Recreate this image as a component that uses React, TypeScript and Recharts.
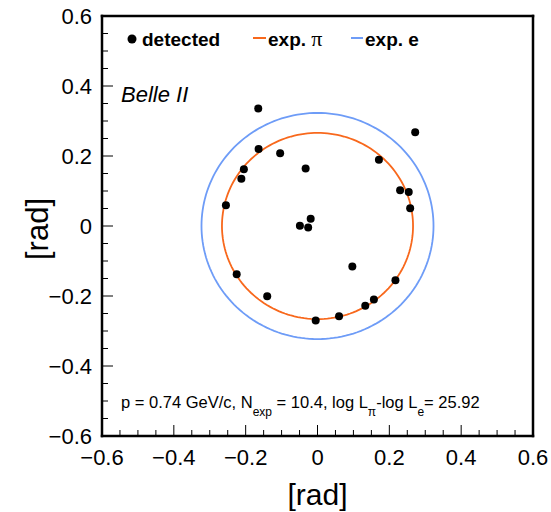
import { ScatterChart, Scatter, XAxis, YAxis } from 'recharts';

// detected hit positions [rad]
const detectedX = [
  -0.165, 0.272, -0.164, -0.104, -0.205, -0.212, -0.033, 0.171, 0.23, 0.254, 0.258, -0.255,
  -0.019, -0.049, -0.026, 0.097, -0.225, 0.217, -0.14, 0.157, 0.133, 0.06, -0.005,
];
const detectedY = [
  0.336, 0.268, 0.22, 0.208, 0.162, 0.135, 0.164, 0.189, 0.102, 0.097, 0.051, 0.059,
  0.021, 0.001, -0.004, -0.116, -0.138, -0.155, -0.201, -0.21, -0.228, -0.258, -0.27,
];

// expected ring radii [rad]
const piRadius = 0.266;
const eRadius = 0.323;

const majorTicks = [-0.6, -0.4, -0.2, 0, 0.2, 0.4, 0.6];
const majorLabels = ['\u22120.6', '\u22120.4', '\u22120.2', '0', '0.2', '0.4', '0.6'];
const minorTicks = [
  -0.6, -0.55, -0.5, -0.45, -0.4, -0.35, -0.3, -0.25, -0.2, -0.15, -0.1, -0.05, 0,
  0.05, 0.1, 0.15, 0.2, 0.25, 0.3, 0.35, 0.4, 0.45, 0.5, 0.55, 0.6,
];

const W = 551;
const H = 512;
const LEFT = 102;
const RIGHT = 533;
const TOP = 16;
const BOTTOM = 436;
const FONT = '"Liberation Sans", Arial, Helvetica, sans-serif';
const ORANGE = '#f8681c';
const BLUE = '#6e9cf7';
const EDGE = 2.5;

const detected = detectedX.map((x, i) => ({ x, y: detectedY[i] }));

const ring = (r: number) => {
  const pts = [];
  for (let i = 0; i <= 360; i += 2) {
    const t = (i * Math.PI) / 180;
    pts.push({ x: r * Math.cos(t), y: r * Math.sin(t) });
  }
  return pts;
};

const labelFor = (v: number) => {
  const idx = majorTicks.findIndex((m) => Math.abs(m - v) < 1e-6);
  return idx >= 0 ? majorLabels[idx] : null;
};

const XTick = (props: any) => {
  const { x, payload } = props;
  const label = labelFor(payload.value);
  return (
    <g>
      <line x1={x} x2={x} y1={BOTTOM} y2={BOTTOM - (label ? 11 : 6)} stroke="#000" strokeWidth={1} />
      {label && (
        <text x={x} y={465} textAnchor="middle" fontSize={22} fontFamily={FONT} fill="#000">
          {label}
        </text>
      )}
    </g>
  );
};

const YTick = (props: any) => {
  const { y, payload } = props;
  const label = labelFor(payload.value);
  return (
    <g>
      <line x1={LEFT} x2={LEFT + (label ? 11 : 6)} y1={y} y2={y} stroke="#000" strokeWidth={1} />
      {label && (
        <text x={92} y={y + 8} textAnchor="end" fontSize={22} fontFamily={FONT} fill="#000">
          {label}
        </text>
      )}
    </g>
  );
};

const Dot = (props: any) => <circle cx={props.cx} cy={props.cy} r={4} fill="#000" />;
const NoDot = () => <g />;

export default function App() {
  return (
    <div style={{ position: 'absolute', left: 0, top: 0, width: W, height: H, background: '#fff' }}>
      <ScatterChart width={W} height={H} margin={{ top: TOP, right: W - RIGHT, bottom: 0, left: 0 }}>
        <XAxis
          type="number"
          dataKey="x"
          domain={[-0.6, 0.6]}
          ticks={minorTicks}
          interval={0}
          height={H - BOTTOM}
          tickSize={0}
          axisLine={false}
          tickLine={false}
          tick={<XTick />}
          allowDataOverflow
        />
        <YAxis
          type="number"
          dataKey="y"
          domain={[-0.6, 0.6]}
          ticks={minorTicks}
          interval={0}
          width={LEFT}
          tickSize={0}
          axisLine={false}
          tickLine={false}
          tick={<YTick />}
          allowDataOverflow
        />
        <Scatter
          data={ring(eRadius)}
          line={{ stroke: BLUE, strokeWidth: 1.8 }}
          lineType="joint"
          shape={<NoDot />}
          isAnimationActive={false}
        />
        <Scatter
          data={ring(piRadius)}
          line={{ stroke: ORANGE, strokeWidth: 1.8 }}
          lineType="joint"
          shape={<NoDot />}
          isAnimationActive={false}
        />
        <Scatter data={detected} shape={<Dot />} isAnimationActive={false} />
      </ScatterChart>
      <svg width={W} height={H} style={{ position: 'absolute', left: 0, top: 0 }} fontFamily={FONT}>
        {/* plot frame, drawn as four solid bars */}
        <g fill="#000">
          <rect x={LEFT - EDGE / 2} y={TOP - EDGE / 2} width={RIGHT - LEFT + EDGE} height={EDGE} />
          <rect x={LEFT - EDGE / 2} y={BOTTOM - EDGE / 2} width={RIGHT - LEFT + EDGE} height={EDGE} />
          <rect x={LEFT - EDGE / 2} y={TOP - EDGE / 2} width={EDGE} height={BOTTOM - TOP + EDGE} />
          <rect x={RIGHT - EDGE / 2} y={TOP - EDGE / 2} width={EDGE} height={BOTTOM - TOP + EDGE} />
        </g>

        {/* legend */}
        <circle cx={132} cy={39} r={4.5} fill="#000" />
        <text x={142} y={46} fontSize={19} fontWeight="bold">detected</text>
        <line x1={253} x2={266} y1={38} y2={38} stroke={ORANGE} strokeWidth={2} />
        <text x={268} y={46} fontSize={19}>
          <tspan fontWeight="bold">exp. </tspan>
          <tspan fontFamily='"Liberation Serif", "Times New Roman", serif' fontSize={22}>π</tspan>
        </text>
        <line x1={351} x2={363} y1={38} y2={38} stroke={BLUE} strokeWidth={2} />
        <text x={365} y={46} fontSize={19} fontWeight="bold">exp. e</text>

        <text x={121} y={102} fontSize={22} fontStyle="italic">Belle II</text>

        <text x={121} y={408} fontSize={16.5}>
          p = 0.74 GeV/c, N
          <tspan fontSize={12} dy={8}>exp</tspan>
          <tspan dy={-8}> = 10.4, log L</tspan>
          <tspan fontSize={12} dy={8}>π</tspan>
          <tspan dy={-8}>-log L</tspan>
          <tspan fontSize={12} dy={8}>e</tspan>
          <tspan dy={-8}>= 25.92</tspan>
        </text>

        {/* axis titles */}
        <text x={(LEFT + RIGHT) / 2} y={505} fontSize={30} textAnchor="middle">[rad]</text>
        <text x={48} y={229} fontSize={31} textAnchor="middle" transform="rotate(-90 48 229)">
          [rad]
        </text>
      </svg>
    </div>
  );
}
